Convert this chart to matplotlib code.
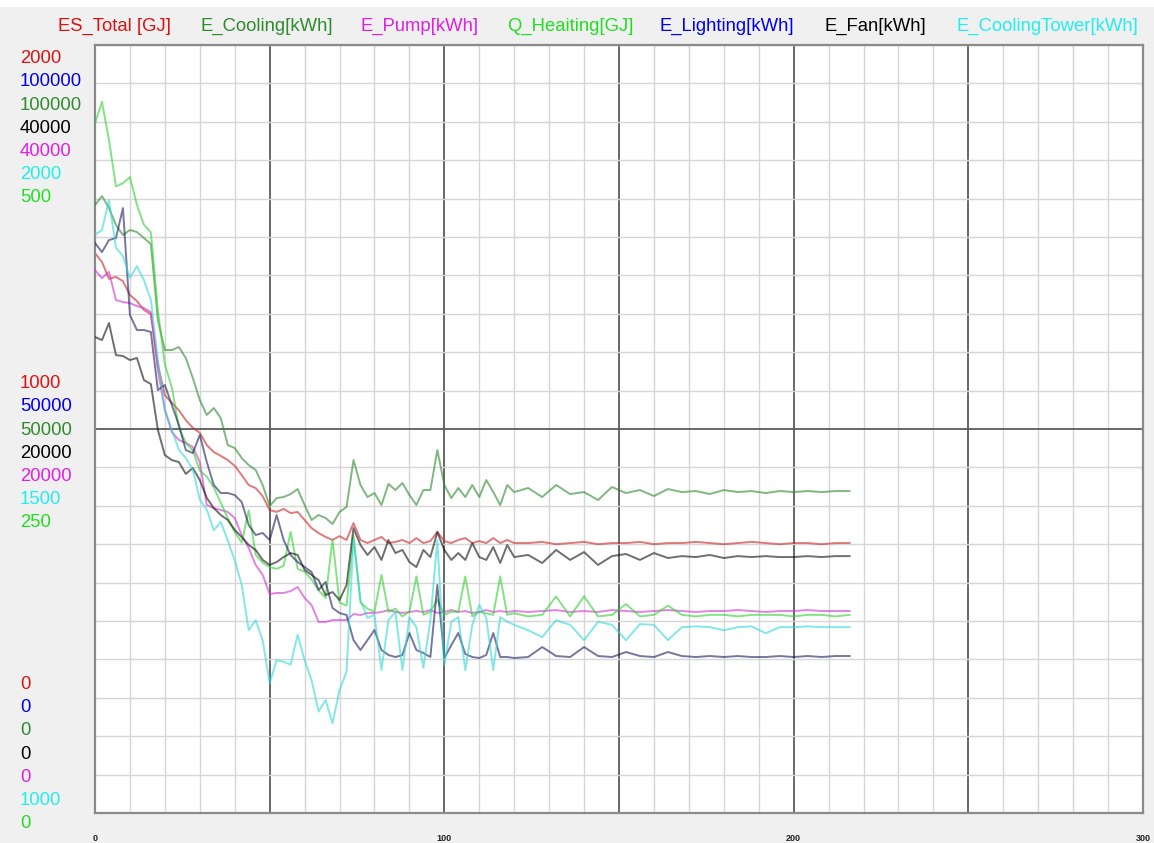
import matplotlib
matplotlib.use("Agg")
import matplotlib.pyplot as plt
from matplotlib.ticker import MultipleLocator, FixedLocator
from matplotlib.patches import Rectangle

plt.rcParams['font.family'] = ['Liberation Sans', 'DejaVu Sans']

# generations (x axis)
gen = list(range(0, 121, 2)) + list(range(124, 217, 4))

es_total = [1458, 1435, 1391, 1396, 1385, 1349, 1333, 1310, 1299, 1167,
            1088, 1068, 1049, 1023, 1003, 990, 958, 940, 930, 919,
            904, 880, 854, 846, 825, 789, 784, 792, 781, 784,
            763, 742, 729, 719, 711, 721, 711, 755, 711, 703,
            711, 719, 703, 706, 711, 703, 716, 703, 708, 732,
            708, 703, 711, 716, 703, 708, 703, 716, 703, 711,
            703,
            703, 706, 700, 703, 706, 700, 703, 703, 706, 700, 703, 703,
            706, 703, 700, 703, 706, 703, 700, 703, 703, 700, 703, 703]

e_cooling = [79160, 80330, 78770, 76560, 75260, 75910, 75650, 74870, 74080, 64190,
             60280, 60280, 60670, 59240, 56640, 53770, 51820, 52730, 51430, 47910,
             47520, 46220, 45310, 44660, 42710, 39970, 41010, 41140, 41530, 42180,
             40100, 38150, 38800, 38410, 37630, 39190, 39840, 45960, 42710, 41140,
             41660, 40100, 42840, 42050, 42970, 41400, 40100, 42050, 42050, 47260,
             42710, 41010, 42320, 41140, 42710, 41140, 43360, 41790, 40100, 42710,
             41790,
             42320, 41140, 42710, 41530, 41790, 40750, 42450, 41660, 42050, 41270, 42180, 41790,
             41920, 41530, 42050, 41790, 41920, 41660, 41920, 41790, 41920, 41790, 41920, 41920]

e_pump = [28280, 27860, 28180, 26720, 26610, 26560, 26400, 26300, 26090, 23070,
          20990, 19840, 19430, 19270, 19060, 18280, 16040, 15880, 15780, 15680,
          15360, 14480, 13800, 12920, 12400, 11410, 11460, 11460, 11560, 11770,
          11200, 10830, 9950, 9950, 10050, 10050, 10050, 10360, 10310, 10420,
          10420, 10470, 10570, 10470, 10420, 10470, 10520, 10470, 10570, 10420,
          10470, 10570, 10470, 10520, 10420, 10470, 10570, 10470, 10520, 10470,
          10520,
          10470, 10520, 10570, 10470, 10520, 10470, 10570, 10520, 10470, 10520, 10570, 10520,
          10470, 10520, 10520, 10570, 10520, 10470, 10520, 10520, 10570, 10520, 10520, 10520]

q_heating = [449, 463, 438, 408, 410, 414, 396, 383, 378, 327,
             292, 277, 251, 241, 236, 223, 219, 212, 202, 192,
             183, 176, 197, 168, 163, 160, 159, 161, 183, 159,
             157, 152, 145, 140, 178, 137, 135, 181, 137, 133,
             131, 155, 131, 133, 128, 131, 154, 129, 131, 139,
             129, 131, 131, 154, 128, 131, 130, 129, 154, 129,
             130,
             128, 129, 141, 128, 141, 128, 129, 136, 128, 129, 135, 129,
             128, 129, 129, 128, 129, 129, 129, 128, 129, 129, 128, 129]

e_lighting = [74210, 73040, 74600, 74870, 78770, 64840, 62890, 62890, 62630, 55070,
              55730, 53120, 50520, 47260, 46870, 49220, 45700, 42710, 41660, 41660,
              41400, 40490, 37500, 36200, 36460, 35540, 38800, 35540, 33590, 32680,
              32030, 31380, 29030, 30080, 26690, 26040, 25780, 22520, 21220, 22520,
              23830, 21220, 20570, 20310, 20570, 23440, 21220, 20830, 20310, 29690,
              20180, 21870, 23440, 20700, 20310, 20180, 20570, 23440, 20310, 20310,
              20180,
              20310, 21610, 20440, 20310, 21610, 20440, 20310, 20960, 20440, 20310, 20960, 20440,
              20310, 20440, 20310, 20440, 20310, 20310, 20440, 20310, 20440, 20310, 20440, 20440]

e_fan = [24790, 24630, 25520, 23850, 23800, 23590, 23700, 22550, 22340, 19950,
         18640, 18380, 18280, 17660, 17970, 17340, 16410, 15880, 15520, 15260,
         14740, 14370, 13960, 13700, 13180, 12920, 13070, 13330, 13540, 13440,
         12660, 12400, 12130, 11350, 11510, 11090, 11870, 14840, 13960, 13440,
         13850, 13180, 14220, 13540, 13700, 13070, 12810, 13700, 13330, 14630,
         13700, 13180, 13540, 13180, 14060, 13330, 13180, 13850, 13020, 13960,
         13330,
         13440, 13020, 13700, 13180, 13590, 12920, 13380, 13490, 13180, 13540, 13280, 13380,
         13330, 13440, 13280, 13380, 13330, 13380, 13330, 13330, 13380, 13330, 13380, 13380]

e_cooling_tower = [1753, 1759, 1798, 1736, 1725, 1697, 1712, 1694, 1668, 1590,
                   1525, 1499, 1473, 1462, 1447, 1408, 1395, 1368, 1379, 1355,
                   1329, 1297, 1238, 1251, 1225, 1169, 1199, 1197, 1193, 1232,
                   1199, 1173, 1132, 1147, 1117, 1160, 1184, 1355, 1277, 1254,
                   1258, 1186, 1251, 1262, 1186, 1255, 1242, 1189, 1251, 1355,
                   1193, 1249, 1255, 1186, 1245, 1271, 1254, 1186, 1255, 1249,
                   1245,
                   1238, 1229, 1251, 1245, 1225, 1249, 1245, 1225, 1246, 1245, 1225, 1242,
                   1243, 1242, 1238, 1242, 1243, 1234, 1242, 1242, 1243, 1242, 1242, 1242]

# name, data, axis range, line colour, text colour
series = {
    'ES_Total [GJ]':       (es_total, (0, 2000), '#cc2222', '#dd1111'),
    'E_Cooling[kWh]':      (e_cooling, (0, 100000), '#2a8a2a', '#2e8b2e'),
    'E_Pump[kWh]':         (e_pump, (0, 40000), '#d030d0', '#e020e0'),
    'Q_Heaiting[GJ]':      (q_heating, (0, 500), '#30d030', '#22dd22'),
    'E_Lighting[kWh]':     (e_lighting, (0, 100000), '#1c1c5c', '#0000ee'),
    'E_Fan[kWh]':          (e_fan, (0, 40000), '#101010', '#000000'),
    'E_CoolingTower[kWh]': (e_cooling_tower, (1000, 2000), '#30d8d8', '#22eeee'),
}
title_x = [58, 200, 360, 507, 660, 825, 957]
label_order = ['ES_Total [GJ]', 'E_Lighting[kWh]', 'E_Cooling[kWh]', 'E_Fan[kWh]',
               'E_Pump[kWh]', 'E_CoolingTower[kWh]', 'Q_Heaiting[GJ]']

W, H = 1154, 843
fig = plt.figure(figsize=(W / 100, H / 100), dpi=100, facecolor='#f0f0f0')
fig.add_artist(Rectangle((0, 1 - 7 / H), 1, 7 / H, transform=fig.transFigure,
                         facecolor='white', edgecolor='none'))

ax = fig.add_axes([95 / W, 1 - 813 / H, (1143 - 95) / W, (813 - 45) / H])
ax.set_facecolor('white')
ax.set_xlim(0, 300)
ax.set_xticks([0, 50, 100, 150, 200, 250, 300], ['0', '', '100', '', '200', '', '300'])
ax.xaxis.set_minor_locator(MultipleLocator(10))
ax.yaxis.set_major_locator(FixedLocator([1000]))
ax.yaxis.set_minor_locator(MultipleLocator(100))
ax.grid(which='minor', color='#d6d6d6', lw=1)
ax.grid(which='major', color='#5c5c5c', lw=1.3)
ax.set_axisbelow(True)
ax.tick_params(which='both', length=0)
ax.tick_params(axis='x', pad=15, labelsize=6.5, labelcolor='#222222')
for lab in ax.get_xticklabels():
    lab.set_fontweight('bold')
ax.set_yticklabels([])
for sp in ax.spines.values():
    sp.set_color('#8a8a8a')
    sp.set_linewidth(1.6)

first = True
for name, (vals, rng, lc, tc) in series.items():
    a = ax if first else ax.twinx()
    first = False
    a.set_ylim(*rng)
    if a is not ax:
        a.axis('off')
    a.plot(gen, vals, color=lc, lw=1.4, alpha=0.6)

for name, x in zip(series, title_x):
    fig.text(x / W, 1 - 26 / H, name, color=series[name][3], fontsize=13.3,
             ha='left', va='center')

# stacked axis labels: top, middle, bottom
for y0, which in [(58.8, 'hi'), (383.7, 'mid'), (684.5, 'lo')]:
    for i, name in enumerate(label_order):
        lo, hi = series[name][1]
        v = {'hi': hi, 'mid': (lo + hi) // 2, 'lo': lo}[which]
        fig.text(20 / W, 1 - (y0 + i * 23.2) / H, str(v), color=series[name][3],
                 fontsize=13.3, ha='left', va='center')

fig.savefig('out.png', dpi=100, facecolor=fig.get_facecolor())
